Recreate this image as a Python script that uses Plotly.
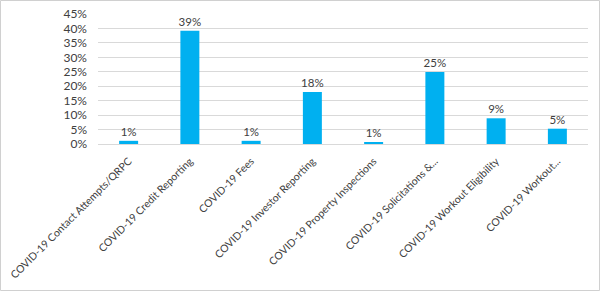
import plotly.graph_objects as go

categories = [
    "COVID-19 Contact Attempts/QRPC",
    "COVID-19 Credit Reporting",
    "COVID-19 Fees",
    "COVID-19 Investor Reporting",
    "COVID-19 Property Inspections",
    "COVID-19 Solicitations &...",
    "COVID-19 Workout Eligibility",
    "COVID-19 Workout...",
]
values = [0.011, 0.392, 0.011, 0.180, 0.006, 0.249, 0.089, 0.053]
labels = ["1%", "39%", "1%", "18%", "1%", "25%", "9%", "5%"]
tick_vals = [0, 0.05, 0.10, 0.15, 0.20, 0.25, 0.30, 0.35, 0.40, 0.45]
tick_text = ["0%", "5%", "10%", "15%", "20%", "25%", "30%", "35%", "40%", "45%"]

W, H = 600, 291
ml, mr, mt, mb = 98, 12, 14, 147
pw, ph = W - ml - mr, H - mt - mb

fig = go.Figure(go.Bar(
    x=categories, y=values, text=labels, textposition="outside",
    constraintext="none",
    textfont=dict(family="Lato", size=11.5, color="#404040"),
    marker=dict(color="#00B0F0", line=dict(width=0)),
    cliponaxis=False,
))
fig.update_layout(
    width=W, height=H,
    margin=dict(l=ml, r=mr, t=mt, b=mb, autoexpand=False),
    paper_bgcolor="white", plot_bgcolor="white",
    bargap=0.69, showlegend=False,
    font=dict(family="Lato", color="#404040"),
    xaxis=dict(tickangle=-45, tickfont=dict(size=10.5, color="#404040"),
               showgrid=False, showline=True, linecolor="#d9d9d9", linewidth=1,
               ticks="", automargin=False, ticklabelstandoff=6),
    yaxis=dict(range=[0, 0.45], tickvals=tick_vals, ticktext=tick_text,
               tickfont=dict(size=12, color="#404040"),
               showgrid=True, gridcolor="#d9d9d9", gridwidth=1,
               zeroline=False, showline=False, ticks="", automargin=False,
               ticklabelstandoff=10),
    shapes=[dict(type="rect", xref="paper", yref="paper",
                 x0=(-ml + 0.5) / pw, x1=(pw + mr - 0.5) / pw,
                 y0=(-mb + 0.5) / ph, y1=(ph + mt - 0.5) / ph,
                 line=dict(color="#d0d0d0", width=1), layer="below")],
)
fig.write_html("out.html")
